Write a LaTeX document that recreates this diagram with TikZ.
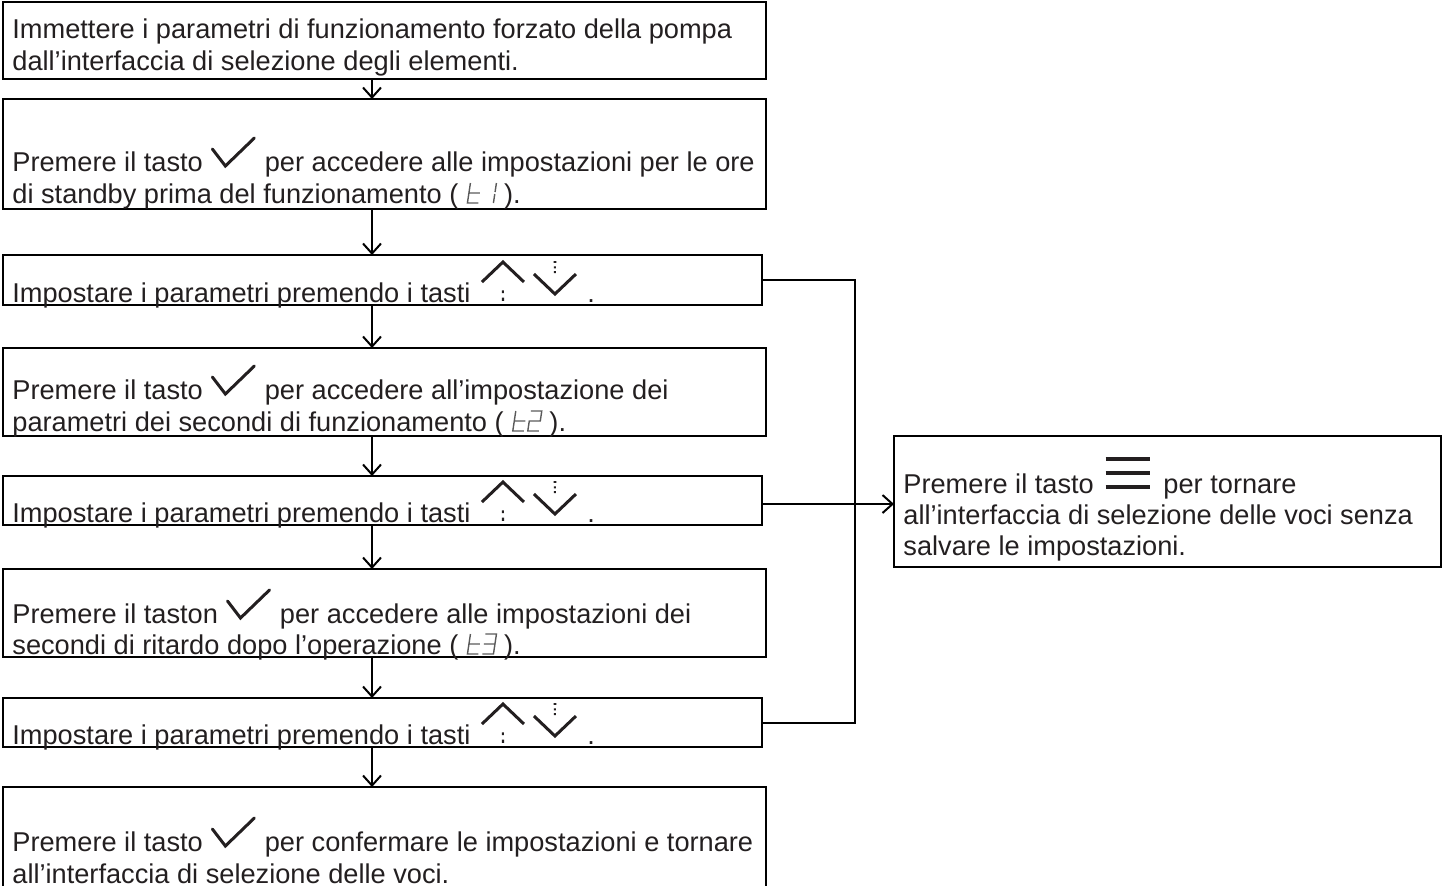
\documentclass[tikz,border=0pt]{standalone}
\usepackage{fontspec}
\setmainfont{Liberation Sans}
\usetikzlibrary{arrows.meta,fit}
\definecolor{ink}{HTML}{231F20}
\definecolor{segc}{HTML}{5A5A5A}
\newcommand\chkicon{\tikz[baseline=0pt,x=1pt,y=1pt]{\path (0,0) rectangle (21,17); \draw[ink,line width=1.5pt,line cap=round,line join=miter] (0,11)--(6.5,2.5)--(21,16.5);}}
\newcommand\updnicon{\tikz[baseline=0pt,x=1pt,y=1pt]{\path (0,0) rectangle (47,21); \draw[ink,line width=1.5pt] (0,10)--(10.5,20)--(21,10) (26,14)--(36.5,4)--(47,14); \fill[ink] (10,4.5) rectangle (11,5.8) (9.9,0.6) rectangle (11.1,2.2) (35.8,19.6) rectangle (37.2,20.4) (36,16.8) rectangle (37,17.8) (36,14.4) rectangle (37,15.4);}}
\newcommand\menuicon{\tikz[baseline=0pt,x=1pt,y=1pt]{\draw[ink,line width=1.8pt] (0,17)--(22,17) (0,10)--(22,10) (0,3)--(22,3);}}
\newcommand\sg[1]{\tikz[baseline=0pt,x=1pt,y=1pt]{\path (0,0) rectangle (7.5,10); \draw[segc,line width=0.7pt,xslant=0.15] #1;}}
\newcommand\segt{\sg{(0.5,10)--(0.5,0)--(6,0) (0.5,5)--(6,5)}}
\newcommand\segone{\sg{(6,10)--(6,5.5) (6,4.5)--(6,0)}}
\newcommand\segtwo{\sg{(0.5,10)--(6,10)--(6,5)--(0.5,5)--(0.5,0)--(6,0)}}
\newcommand\segthree{\sg{(0.5,10)--(6,10)--(6,0)--(0.5,0) (0.5,5)--(6,5)}}
\newcommand\disp[1]{(\hspace{4pt}\segt#1\hspace{3.5pt})}
\tikzset{
  boxst/.style={draw=black,line width=1.4pt,inner sep=0pt,outer sep=0pt},
  txt/.style={anchor=base west,inner sep=0pt,text=ink,font=\fontsize{13.6}{16}\selectfont},
  arr/.style={draw=black,line width=1pt,-{Straight Barb[length=5pt,width=9pt,line width=1pt]}},
  link/.style={draw=black,line width=1pt},
}
\begin{document}
\begin{tikzpicture}[x=0.5pt,y=-0.5pt]
\useasboundingbox (0,0) rectangle (1449,885);
% boxes
\node[boxst,fit={(3,2) (766,79)}] (b1) {};
\node[boxst,fit={(3,99) (766,209)}] (b2) {};
\node[boxst,fit={(3,255) (762,305)}] (b3) {};
\node[boxst,fit={(3,348) (766,436)}] (b4) {};
\node[boxst,fit={(3,476) (762,525)}] (b5) {};
\node[boxst,fit={(3,569) (766,657)}] (b6) {};
\node[boxst,fit={(3,698) (762,747)}] (b7) {};
\node[boxst,fit={(3,787) (766,900)}] (b8) {};
\node[boxst,fit={(894,436) (1441,567)}] (r) {};
% texts
\node[txt] (t1a) at (12,38) {Immettere i parametri di funzionamento forzato della pompa};
\node[txt] (t1b) at (12,70) {dall’interfaccia di selezione degli elementi.};
\node[txt] (t2a) at (12,171) {Premere il tasto\hspace{4pt}\chkicon\hspace{4.5pt}per accedere alle impostazioni per le ore};
\node[txt] (t2b) at (12,203) {di standby prima del funzionamento \disp{\segone}.};
\node[txt] (t3) at (12,302) {Impostare i parametri premendo i tasti\hspace{5pt}\updnicon\hspace{5pt}.};
\node[txt] (t4a) at (12,399) {Premere il tasto\hspace{4pt}\chkicon\hspace{4.5pt}per accedere all’impostazione dei};
\node[txt] (t4b) at (12,431) {parametri dei secondi di funzionamento \disp{\segtwo}.};
\node[txt] (t5) at (12,522) {Impostare i parametri premendo i tasti\hspace{5pt}\updnicon\hspace{5pt}.};
\node[txt] (t6a) at (12,623) {Premere il taston\hspace{4pt}\chkicon\hspace{4.5pt}per accedere alle impostazioni dei};
\node[txt] (t6b) at (12,654) {secondi di ritardo dopo l’operazione \disp{\segthree}.};
\node[txt] (t7) at (12,744) {Impostare i parametri premendo i tasti\hspace{5pt}\updnicon\hspace{5pt}.};
\node[txt] (t8a) at (12,851) {Premere il tasto\hspace{4pt}\chkicon\hspace{4.5pt}per confermare le impostazioni e tornare};
\node[txt] (t8b) at (12,883) {all’interfaccia di selezione delle voci.};
\node[txt] (tra) at (903,493) {Premere il tasto\hspace{5pt}\menuicon\hspace{6pt}per tornare};
\node[txt] (trb) at (903,524) {all’interfaccia di selezione delle voci senza};
\node[txt] (trc) at (903,555) {salvare le impostazioni.};
% connectors
\coordinate (ax) at (372,0);
\coordinate (vx) at (855,0);
\coordinate (hy) at (0,504);
\draw[arr] (b1.south -| ax) -- (b2.north -| ax);
\draw[arr] (b2.south -| ax) -- (b3.north -| ax);
\draw[arr] (b3.south -| ax) -- (b4.north -| ax);
\draw[arr] (b4.south -| ax) -- (b5.north -| ax);
\draw[arr] (b5.south -| ax) -- (b6.north -| ax);
\draw[arr] (b6.south -| ax) -- (b7.north -| ax);
\draw[arr] (b7.south -| ax) -- (b8.north -| ax);
\draw[link] (b3.east) -- (b3.east -| vx) -- (b7.east -| vx) -- (b7.east);
\draw[arr] (b5.east |- hy) -- (r.west |- hy);
\end{tikzpicture}
\end{document}
